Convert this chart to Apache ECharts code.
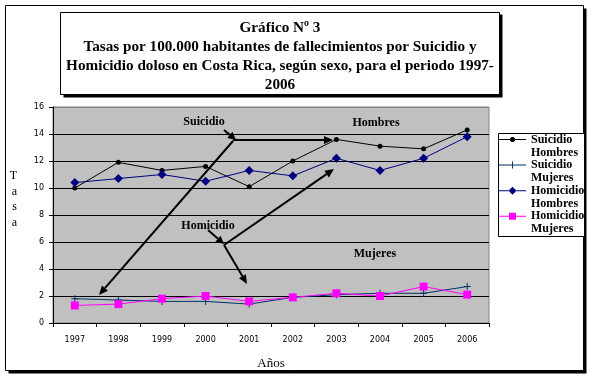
<!DOCTYPE html>
<html>
<head>
<meta charset="utf-8">
<script src="https://cdn.jsdelivr.net/npm/echarts@6/dist/echarts.min.js"></script>
<style>
html,body{margin:0;padding:0;background:#fff;}
#chart{width:593px;height:380px;}
</style>
</head>
<body>
<div id="chart"></div>
<script>
const years = ['1997','1998','1999','2000','2001','2002','2003','2004','2005','2006'];
const suicidioHombres = [10.0, 11.9, 11.3, 11.6, 10.1, 12.0, 13.6, 13.1, 12.9, 14.3];
const suicidioMujeres = [1.8, 1.7, 1.6, 1.6, 1.4, 1.9, 2.1, 2.2, 2.2, 2.7];
const homicidioHombres = [10.4, 10.7, 11.0, 10.5, 11.3, 10.9, 12.2, 11.3, 12.2, 13.8];
const homicidioMujeres = [1.3, 1.4, 1.8, 2.0, 1.6, 1.9, 2.2, 2.0, 2.7, 2.1];
const seriesNames = ['Suicidio Hombres','Suicidio Mujeres','Homicidio Hombres','Homicidio Mujeres'];
const titleLines = ['Gráfico Nº 3',
  'Tasas por 100.000 habitantes de fallecimientos por Suicidio y',
  'Homicidio doloso en Costa Rica, según sexo, para el periodo 1997-',
  '2006'];

const serif = '"Liberation Serif", "DejaVu Serif", serif';
const plusPath = 'path://M3,0h1v3h3v1h-3v3h-1v-3h-3v-1h3z';

// legend icons: line + marker drawn in the upper part of a 27x26 box
const anchors = 'M0,0h0.01v0.01h-0.01z M26.99,25.99h0.01v0.01h-0.01z ';
const legendIcons = [
  'path://' + anchors + 'M0,6h11v1h-11z M16,6h11v1h-11z M12.5,4h2l1.5,1.5v2l-1.5,1.5h-2l-1.5,-1.5v-2z',
  'path://' + anchors + 'M0,6h27v1h-27z M13,3h1v3h-1z M13,7h1v3h-1z',
  'path://' + anchors + 'M0,6h9.5v1h-9.5z M17.5,6h9.5v1h-9.5z M13.5,2.5L17.5,6.5L13.5,10.5L9.5,6.5z',
  'path://' + anchors + 'M0,6h10v1h-10z M17,6h10v1h-10z M10,3h7v7h-7z'
];

function arrow(x1, y1, x2, y2, head) {
  const a = Math.atan2(y2 - y1, x2 - x1);
  const h = head || 9, w = 4;
  const bx = x2 - h * Math.cos(a), by = y2 - h * Math.sin(a);
  const px = -Math.sin(a) * w, py = Math.cos(a) * w;
  return [
    {type:'line', shape:{x1:x1, y1:y1, x2:bx, y2:by}, style:{stroke:'#000', lineWidth:2}, z:100},
    {type:'polygon', shape:{points:[[x2,y2],[bx+px,by+py],[bx-px,by-py]]}, style:{fill:'#000'}, z:100}
  ];
}

const graphics = [
  {type:'rect', shape:{x:8.5, y:8.5, width:578, height:365}, style:{fill:'#000'}, z:-10, silent:true},
  {type:'rect', shape:{x:5.5, y:5.5, width:578, height:365}, style:{fill:'#fff', stroke:'#000', lineWidth:1}, z:-9, silent:true},
  {type:'rect', shape:{x:63.5, y:14.5, width:439, height:83}, style:{fill:'#000'}, z:-5, silent:true},
  {type:'rect', shape:{x:60.5, y:12.5, width:439, height:82}, style:{fill:'#fff', stroke:'#000', lineWidth:1}, z:-4, silent:true},
  {type:'rect', shape:{x:498.5, y:133.5, width:86, height:103}, style:{fill:'#fff', stroke:'#000', lineWidth:1}, z:-4, silent:true},
  {type:'text', x:280, y:18, style:{text:titleLines.join('\n'), font:'bold 15.2px ' + serif, lineHeight:19.3, textAlign:'center', fill:'#000'}},
  {type:'text', x:204, y:122, style:{text:'Suicidio', font:'bold 12px ' + serif, textAlign:'center', textVerticalAlign:'middle', fill:'#000'}, z:101},
  {type:'text', x:376, y:123, style:{text:'Hombres', font:'bold 12px ' + serif, textAlign:'center', textVerticalAlign:'middle', fill:'#000'}, z:101},
  {type:'text', x:208, y:226, style:{text:'Homicidio', font:'bold 12px ' + serif, textAlign:'center', textVerticalAlign:'middle', fill:'#000'}, z:101},
  {type:'text', x:375, y:254, style:{text:'Mujeres', font:'bold 12px ' + serif, textAlign:'center', textVerticalAlign:'middle', fill:'#000'}, z:101}
].concat(
  arrow(224, 130, 236, 140, 8),
  arrow(233, 141, 99, 295),
  arrow(233, 140, 333, 140),
  arrow(208, 230, 224, 244, 8),
  arrow(224, 245, 334, 169),
  arrow(224, 245, 247, 284)
);

const chart = echarts.init(document.getElementById('chart'), null, {renderer:'canvas'});
chart.setOption({
  animation:false,
  backgroundColor:'transparent',
  grid:{left:53, right:104, top:107, bottom:57, show:true, backgroundColor:'#C0C0C0', borderColor:'#808080', borderWidth:1},
  xAxis:{
    type:'category', data:years, boundaryGap:true,
    name:'Años', nameLocation:'middle', nameGap:34,
    nameTextStyle:{fontFamily:serif, fontSize:13, color:'#000'},
    axisLine:{lineStyle:{color:'#000', width:1}},
    axisTick:{show:true, length:4, lineStyle:{color:'#000'}},
    axisLabel:{fontFamily:'"DejaVu Sans"', fontSize:8, color:'#000', margin:13}
  },
  yAxis:{
    type:'value', min:0, max:16, interval:2,
    name:'T\na\ns\na\n\n', nameLocation:'middle', nameGap:36, nameRotate:0,
    nameTextStyle:{fontFamily:serif, fontSize:12, lineHeight:15.5, color:'#000'},
    axisLine:{show:true, lineStyle:{color:'#000', width:1}},
    axisTick:{show:true, length:4, lineStyle:{color:'#000'}},
    axisLabel:{fontFamily:'"DejaVu Sans"', fontSize:8, color:'#000', margin:9},
    splitLine:{show:true, lineStyle:{color:['#000','#000','#000','#000','#000','#000','#000','#000','#808080'], width:1}}
  },
  legend:{
    orient:'vertical', left:499, top:133, padding:0, itemGap:-0.4, itemWidth:27, itemHeight:26,
    data:seriesNames.map(function(n, i){ return {name:n, icon:legendIcons[i]}; }),
    formatter:function(n){ return n.replace(' ', '\n'); },
    itemStyle:{borderWidth:0},
    textStyle:{fontFamily:serif, fontWeight:'bold', fontSize:12, lineHeight:13, color:'#000'}
  },
  graphic:graphics,
  series:[
    {name:seriesNames[0], type:'line', data:suicidioHombres, color:'#000000', symbol:'circle', symbolSize:5, lineStyle:{width:1}, z:3},
    {name:seriesNames[1], type:'line', data:suicidioMujeres, color:'#003366', symbol:plusPath, symbolSize:7, lineStyle:{width:1}, z:3},
    {name:seriesNames[2], type:'line', data:homicidioHombres, color:'#000080', symbol:'diamond', symbolSize:9, lineStyle:{width:1}, z:3},
    {name:seriesNames[3], type:'line', data:homicidioMujeres, color:'#FF00FF', symbol:'rect', symbolSize:8, lineStyle:{width:1}, z:3}
  ]
});
</script>
</body>
</html>
